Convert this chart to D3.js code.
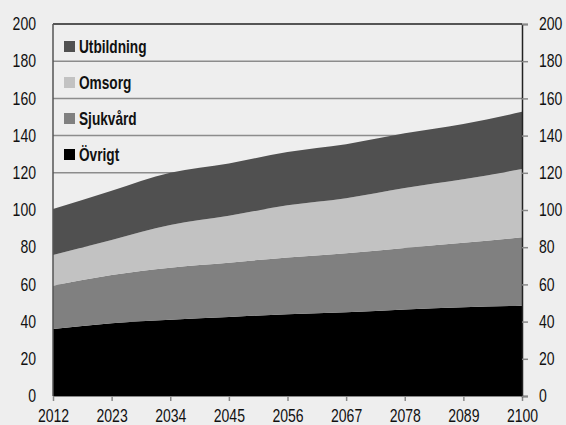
<!DOCTYPE html>
<html>
<head>
<meta charset="utf-8">
<script src="https://cdn.jsdelivr.net/npm/d3@7"></script>
<style>
  body { margin:0; background:#eeeeee; }
  svg { display:block; }
  text { font-family:"Liberation Sans","Arial",sans-serif; fill:#111; }
  .tick text { font-size:18px; }
  .legend text { font-size:18px; font-weight:bold; }
</style>
</head>
<body>
<svg id="chart"></svg>
<script>
// years shown on the x axis (data points too)
var years = [2012, 2023, 2034, 2045, 2056, 2067, 2078, 2089, 2100]

// values, stacked bottom -> top
var ovrigt     = [36.0, 39.1, 41.0, 42.5, 44.0, 45.0, 46.5, 47.7, 48.5]
var sjukvard   = [23.3, 25.9, 28.0, 29.2, 30.5, 31.7, 33.1, 34.7, 36.8]
var omsorg     = [16.5, 18.9, 22.9, 25.2, 28.0, 29.6, 32.2, 34.1, 36.7]
var utbildning = [24.7, 26.5, 28.1, 28.1, 28.7, 29.1, 29.4, 29.7, 30.8]

var seriesNames = ["Övrigt", "Sjukvård", "Omsorg", "Utbildning"]
var legendOrder = ["Utbildning", "Omsorg", "Sjukvård", "Övrigt"]
var yTicks = [0, 20, 40, 60, 80, 100, 120, 140, 160, 180, 200]

var screen = {width:566, height:425}
var margins = {left:53, right:44, top:24, bottom:29}
var graph = {
    width: screen.width - margins.left - margins.right,
    height: screen.height - margins.top - margins.bottom
}

var colors = d3.scaleOrdinal()
    .domain(seriesNames)
    .range(["#000000", "#808080", "#c2c2c2", "#505050"])

// build rows for d3.stack
var table = years.map(function(y, i){
    return {year:y, "Övrigt":ovrigt[i], "Sjukvård":sjukvard[i],
            "Omsorg":omsorg[i], "Utbildning":utbildning[i]}
})

// squeeze text horizontally (original uses a condensed face)
var condense = function(sel, k){
    sel.each(function(){
        var t = d3.select(this)
        var x = +t.attr("x") || 0
        t.attr("x", x / k)
         .attr("transform", "scale(" + k + ",1)")
    })
}

var svg = d3.select("#chart")
    .attr("width", screen.width)
    .attr("height", screen.height)

var target = svg.append("g")
    .attr("transform", "translate(" + margins.left + "," + margins.top + ")")

var xScale = d3.scaleLinear()
    .domain([2012, 2100])
    .range([0, graph.width])

var yScale = d3.scaleLinear()
    .domain([0, 200])
    .range([graph.height, 0])

// gridlines
target.append("g").selectAll("line")
    .data(yTicks.filter(function(d){ return d > 0 && d < 200 }))
    .enter().append("line")
    .attr("x1", 0).attr("x2", graph.width)
    .attr("y1", function(d){ return yScale(d) })
    .attr("y2", function(d){ return yScale(d) })
    .attr("stroke", "#8c8c8c")
    .attr("stroke-width", 1.5)

var stacked = d3.stack().keys(seriesNames)(table)

var area = d3.area()
    .x(function(d){ return xScale(d.data.year) })
    .y0(function(d){ return yScale(d[0]) })
    .y1(function(d){ return yScale(d[1]) })
    .curve(d3.curveMonotoneX)

target.selectAll("path.layer")
    .data(stacked)
    .enter().append("path")
    .attr("class", "layer")
    .attr("d", area)
    .attr("fill", function(d){ return colors(d.key) })

// frame: top line and left line
target.append("line")
    .attr("x1", 0).attr("x2", graph.width)
    .attr("y1", yScale(200)).attr("y2", yScale(200))
    .attr("stroke", "#222").attr("stroke-width", 1.5)
target.append("line")
    .attr("x1", 0).attr("x2", 0)
    .attr("y1", 0).attr("y2", graph.height)
    .attr("stroke", "#555").attr("stroke-width", 1.5)

// axes
var xAxis = d3.axisBottom(xScale)
    .tickValues(years)
    .tickFormat(d3.format("d"))
    .tickSize(5)
    .tickPadding(8)

var yLeft = d3.axisLeft(yScale)
    .tickValues(yTicks)
    .tickSize(0)
    .tickPadding(17)

var yRight = d3.axisRight(yScale)
    .tickValues(yTicks)
    .tickSize(6)
    .tickPadding(11)

var gx = svg.append("g")
    .attr("transform", "translate(" + margins.left + "," + (margins.top + graph.height) + ")")
    .call(xAxis)
gx.select(".domain").attr("stroke", "#888")
gx.selectAll(".tick line").attr("stroke", "#888").attr("stroke-width", 1.5)

var gl = svg.append("g")
    .attr("transform", "translate(" + margins.left + "," + margins.top + ")")
    .call(yLeft)
gl.select(".domain").remove()

var gr = svg.append("g")
    .attr("transform", "translate(" + (margins.left + graph.width) + "," + margins.top + ")")
    .call(yRight)
gr.select(".domain").attr("stroke", "#222").attr("stroke-width", 1.5)
gr.selectAll(".tick line").attr("stroke", "#888").attr("stroke-width", 1.5)

svg.selectAll(".tick text").attr("fill", "#111").call(condense, 0.78)

// legend
var legend = svg.append("g")
    .attr("class", "legend")
    .attr("transform", "translate(64,41)")

var entries = legend.selectAll("g")
    .data(legendOrder)
    .enter().append("g")
    .attr("transform", function(d, i){ return "translate(0," + i * 36 + ")" })

entries.append("rect")
    .attr("width", 11).attr("height", 11)
    .attr("fill", function(d){ return colors(d) })

entries.append("text")
    .attr("x", 15)
    .attr("y", 11.5)
    .text(function(d){ return d })
    .call(condense, 0.76)
</script>
</body>
</html>
